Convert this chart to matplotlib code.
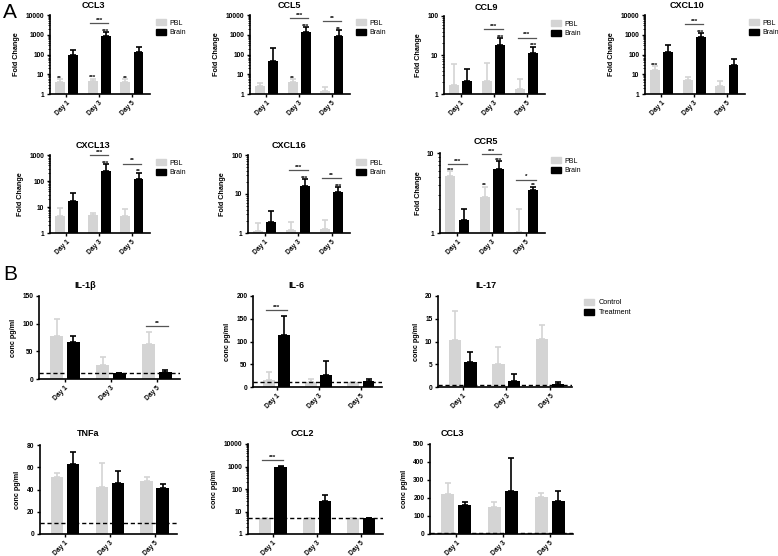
import numpy as np
import matplotlib
matplotlib.use("Agg")
import matplotlib.pyplot as plt
from matplotlib.patches import Patch
from matplotlib.ticker import FixedLocator, LogLocator, NullFormatter

plt.rcParams["font.family"] = ["Liberation Sans", "DejaVu Sans"]

W, H = 778, 556
GRAY = "#d4d4d4"

days = ["Day 1", "Day 3", "Day 5"]

# ---- panel A: fold change (PBL vs Brain), mean and upper SD ----
ccl3_pbl = [4.0, 4.7, 4.0]
ccl3_pbl_err = [1.5, 1.3, 1.5]
ccl3_brain = [90, 910, 130]
ccl3_brain_err = [75, 440, 120]

ccl5_pbl = [2.6, 4.0, 1.5]
ccl5_pbl_err = [1.0, 1.7, 0.7]
ccl5_brain = [45, 1300, 900]
ccl5_brain_err = [180, 1100, 800]

ccl9_pbl = [1.7, 2.2, 1.35]
ccl9_pbl_err = [4.2, 4.0, 1.05]
ccl9_brain = [2.2, 18, 11.5]
ccl9_brain_err = [2.1, 9, 5]

cxcl10_pbl = [17, 5, 2.6]
cxcl10_pbl_err = [10, 2, 2.1]
cxcl10_brain = [140, 750, 28]
cxcl10_brain_err = [170, 450, 32]

cxcl13_pbl = [4.4, 4.8, 4.4]
cxcl13_pbl_err = [4.7, 1.1, 3.7]
cxcl13_brain = [16.5, 240, 116]
cxcl13_brain_err = [18.5, 200, 94]

cxcl16_pbl = [1.13, 1.17, 1.3]
cxcl16_pbl_err = [0.67, 0.79, 0.9]
cxcl16_brain = [1.9, 16, 11]
cxcl16_brain_err = [1.8, 8, 4]

ccr5_pbl = [5.1, 2.85, 1.03]
ccr5_pbl_err = [0.8, 0.95, 0.97]
ccr5_brain = [1.44, 6.3, 3.45]
ccr5_brain_err = [0.56, 1.6, 0.35]

# significance marks: above PBL bar, above Brain bar, bracket over the day
ccl3_sig = (["**", "***", "**"], ["", "***", ""], ["", "***", ""])
ccl5_sig = (["", "**", ""], ["", "***", "**"], ["", "***", "**"])
ccl9_sig = (["", "", ""], ["", "***", "***"], ["", "***", "***"])
cxcl10_sig = (["***", "", ""], ["", "***", ""], ["", "***", ""])
cxcl13_sig = (["", "", ""], ["", "***", "**"], ["", "***", "**"])
cxcl16_sig = (["", "", ""], ["", "***", "***"], ["", "***", "**"])
ccr5_sig = (["***", "**", ""], ["", "***", "**"], ["***", "***", "*"])

# ---- panel B: concentration (Control vs Treatment) ----
il1b_ctrl = [77, 26, 64]
il1b_ctrl_err = [32, 14, 21]
il1b_treat = [66, 10, 12]
il1b_treat_err = [11, 0, 5]

il6_ctrl = [16, 12, 10]
il6_ctrl_err = [17, 5, 0]
il6_treat = [115, 27, 13]
il6_treat_err = [40, 30, 4]

il17_ctrl = [10.4, 5.0, 10.6]
il17_ctrl_err = [6.4, 3.8, 3.1]
il17_treat = [5.4, 1.3, 0.7]
il17_treat_err = [2.2, 1.6, 0.3]

tnfa_ctrl = [51, 42, 48]
tnfa_ctrl_err = [4, 22, 3]
tnfa_treat = [63, 45.5, 41.5]
tnfa_treat_err = [11, 11.5, 3.5]

ccl2_ctrl = [5, 5, 5]
ccl2_ctrl_err = [0, 0, 0]
ccl2_treat = [1000, 28, 5]
ccl2_treat_err = [40, 28, 0]

ccl3b_ctrl = [221, 152, 208]
ccl3b_ctrl_err = [62, 28, 22]
ccl3b_treat = [162, 240, 184]
ccl3b_treat_err = [18, 185, 56]

# detection limits (dashed lines)
il1b_lod, il6_lod, il17_lod = 10, 10, 0.5
tnfa_lod, ccl2_lod, ccl3b_lod = 10, 5, 4

il1b_br = ["", "", "**"]
il6_br = ["***", "", ""]
ccl2_br = ["***", "", ""]


def px_axes(fig, left, top, right, bottom):
    return fig.add_axes([left / W, 1 - bottom / H, (right - left) / W, (bottom - top) / H])


def draw_bars(ax, a, a_err, b, b_err, log, width, off):
    x = np.arange(len(days))
    base = 1 if log else 0
    ax.bar(x - off, np.array(a) - base, width, bottom=base, color=GRAY, zorder=2)
    ax.bar(x + off, np.array(b) - base, width, bottom=base, color="black", zorder=2)
    ax.errorbar(x - off, a, yerr=[np.zeros(3), a_err], fmt="none", ecolor=GRAY,
                elinewidth=1.2, capsize=2.5, capthick=1.2, zorder=1)
    ax.errorbar(x + off, b, yerr=[np.zeros(3), b_err], fmt="none", ecolor="black",
                elinewidth=1.2, capsize=2.5, capthick=1.2, zorder=1)


def style_axis(ax, log, ylim, yticks):
    for s in ["top", "right"]:
        ax.spines[s].set_visible(False)
    for s in ["left", "bottom"]:
        ax.spines[s].set_linewidth(1.2)
    if log:
        ax.set_yscale("log")
        ax.yaxis.set_minor_locator(LogLocator(base=10, subs=np.arange(2, 10)))
        ax.yaxis.set_minor_formatter(NullFormatter())
        ax.tick_params(axis="y", which="minor", length=1.5, width=0.6)
    ax.set_ylim(*ylim)
    ax.yaxis.set_major_locator(FixedLocator(yticks))
    ax.set_yticklabels([f"{t:g}" for t in yticks])
    ax.set_xticks(np.arange(len(days)))
    ax.set_xticklabels(days, rotation=45, ha="right", rotation_mode="anchor")
    ax.tick_params(axis="both", which="major", length=2.5, width=1, labelsize=4.8, pad=1.5)
    for lab in ax.get_xticklabels() + ax.get_yticklabels():
        lab.set_fontweight("bold")


def raise_px(ax, y, px):
    # value lying px image pixels above y on this axis
    disp = ax.transData.transform((0, y))
    return ax.transData.inverted().transform((disp[0], disp[1] + px))[1]


def bracket(ax, x0, x1, ytop, txt, px):
    yb = raise_px(ax, ytop, px)
    ax.plot([x0, x1], [yb, yb], color="#555555", lw=0.9, clip_on=False, zorder=4)
    ax.annotate(txt, ((x0 + x1) / 2, yb), xytext=(0, 0.3), textcoords="offset points",
                ha="center", va="bottom", fontsize=4.5, fontweight="bold",
                annotation_clip=False, zorder=5)


def mark(ax, x, y, txt):
    if txt:
        ax.annotate(txt, (x, y), xytext=(0, 0.5), textcoords="offset points",
                    ha="center", va="center", fontsize=4.5, fontweight="bold",
                    annotation_clip=False, zorder=5)


def add_panel_a(fig, rect, title, title_x, pbl, pbl_err, brain, brain_err, sig,
                ylim, yticks, legend_x=1.03, title_gap=9, br_px=9):
    ax = px_axes(fig, *rect)
    width, off = 0.3, 0.2
    draw_bars(ax, pbl, pbl_err, brain, brain_err, True, width, off)
    style_axis(ax, True, ylim, yticks)
    ax.set_xlim(-0.5, 2.55)
    ax.set_ylabel("Fold Change", fontsize=5.2, fontweight="bold", labelpad=4)
    pbl_top = np.array(pbl) + np.array(pbl_err)
    brain_top = np.array(brain) + np.array(brain_err)
    psig, bsig, brk = sig
    for i in range(3):
        mark(ax, i - off, pbl_top[i], psig[i])
        mark(ax, i + off, brain_top[i], bsig[i])
        if brk[i]:
            bracket(ax, i - 0.28, i + 0.28, max(pbl_top[i], brain_top[i]), brk[i], br_px)
    fig.text(title_x / W, 1 - (rect[1] - title_gap) / H, title, ha="center", va="center",
             fontsize=6.5, fontweight="bold")
    handles = [Patch(color=GRAY, label="PBL"), Patch(color="black", label="Brain")]
    ax.legend(handles=handles, loc="upper left", bbox_to_anchor=(legend_x, 0.98),
              frameon=False, fontsize=5.0, handlelength=1.4, handleheight=0.9,
              handletextpad=0.5, labelspacing=0.35, borderaxespad=0)
    return ax


def add_panel_b(fig, rect, title, title_x, ctrl, ctrl_err, treat, treat_err, lod,
                brk, log, ylim, yticks, legend=False):
    ax = px_axes(fig, *rect)
    width, off = 0.28, 0.18
    draw_bars(ax, ctrl, ctrl_err, treat, treat_err, log, width, off)
    style_axis(ax, log, ylim, yticks)
    ax.set_xlim(-0.56, 2.5)
    ax.axhline(lod, color="black", lw=1.0, ls=(0, (3, 2)), zorder=3)
    ax.set_ylabel("conc pg/ml", fontsize=5.2, fontweight="bold", labelpad=4)
    ctop = np.array(ctrl) + np.array(ctrl_err)
    ttop = np.array(treat) + np.array(treat_err)
    for i in range(3):
        if brk[i]:
            bracket(ax, i - off - 0.06, i + off + 0.06, max(ctop[i], ttop[i]), brk[i], 6)
    fig.text(title_x / W, 1 - (rect[1] - 11) / H, title, ha="center", va="center",
             fontsize=6.5, fontweight="bold")
    if legend:
        handles = [Patch(color=GRAY, label="Control"), Patch(color="black", label="Treatment")]
        ax.legend(handles=handles, loc="upper left", bbox_to_anchor=(1.07, 1.0),
                  frameon=False, fontsize=5.2, handlelength=1.4, handleheight=0.9,
                  handletextpad=0.6, labelspacing=0.35, borderaxespad=0)
    return ax


fig = plt.figure(figsize=(W / 100, H / 100), dpi=100)

dec4 = [1, 10, 100, 1000, 10000]
add_panel_a(fig, (50, 15, 150, 94), "CCL3", 93, ccl3_pbl, ccl3_pbl_err,
            ccl3_brain, ccl3_brain_err, ccl3_sig, (1, 10000), dec4)
add_panel_a(fig, (250, 15, 350, 94), "CCL5", 289, ccl5_pbl, ccl5_pbl_err,
            ccl5_brain, ccl5_brain_err, ccl5_sig, (1, 10000), dec4)
add_panel_a(fig, (444, 16, 545, 94), "CCL9", 486, ccl9_pbl, ccl9_pbl_err,
            ccl9_brain, ccl9_brain_err, ccl9_sig, (1, 100), [1, 10, 100])
add_panel_a(fig, (645, 15, 745, 94), "CXCL10", 687, cxcl10_pbl, cxcl10_pbl_err,
            cxcl10_brain, cxcl10_brain_err, cxcl10_sig, (1, 10000), dec4, legend_x=1.01)
add_panel_a(fig, (50, 155, 150, 233), "CXCL13", 93, cxcl13_pbl, cxcl13_pbl_err,
            cxcl13_brain, cxcl13_brain_err, cxcl13_sig, (1, 1000), [1, 10, 100, 1000])
add_panel_a(fig, (248, 155, 350, 233), "CXCL16", 289, cxcl16_pbl, cxcl16_pbl_err,
            cxcl16_brain, cxcl16_brain_err, cxcl16_sig, (1, 100), [1, 10, 100])
add_panel_a(fig, (440, 153, 545, 233), "CCR5", 486, ccr5_pbl, ccr5_pbl_err,
            ccr5_brain, ccr5_brain_err, ccr5_sig, (1, 10), [1, 10], title_gap=12, br_px=7)

add_panel_b(fig, (39, 296, 180, 379), "IL-1\u03b2", 85, il1b_ctrl, il1b_ctrl_err,
            il1b_treat, il1b_treat_err, il1b_lod, il1b_br, False, (0, 150), [0, 50, 100, 150])
add_panel_b(fig, (253, 296, 382, 387), "IL-6", 296, il6_ctrl, il6_ctrl_err,
            il6_treat, il6_treat_err, il6_lod, il6_br, False, (0, 200), [0, 50, 100, 150, 200])
add_panel_b(fig, (438, 296, 572, 387), "IL-17", 486, il17_ctrl, il17_ctrl_err,
            il17_treat, il17_treat_err, il17_lod, ["", "", ""], False, (0, 20),
            [0, 5, 10, 15, 20], legend=True)
add_panel_b(fig, (40, 445, 177, 534), "TNFa", 88, tnfa_ctrl, tnfa_ctrl_err,
            tnfa_treat, tnfa_treat_err, tnfa_lod, ["", "", ""], False, (0, 80),
            [0, 20, 40, 60, 80])
add_panel_b(fig, (248, 444, 383, 534), "CCL2", 302, ccl2_ctrl, ccl2_ctrl_err,
            ccl2_treat, ccl2_treat_err, ccl2_lod, ccl2_br, True, (1, 10000), dec4)
add_panel_b(fig, (430, 444, 573, 534), "CCL3", 452, ccl3b_ctrl, ccl3b_ctrl_err,
            ccl3b_treat, ccl3b_treat_err, ccl3b_lod, ["", "", ""], False, (0, 500),
            [0, 100, 200, 300, 400, 500])

fig.text(3 / W, 1 - 12 / H, "A", fontsize=15, ha="left", va="center")
fig.text(3 / W, 1 - 275 / H, "B", fontsize=15, ha="left", va="center")

fig.savefig("out.png", dpi=100)
